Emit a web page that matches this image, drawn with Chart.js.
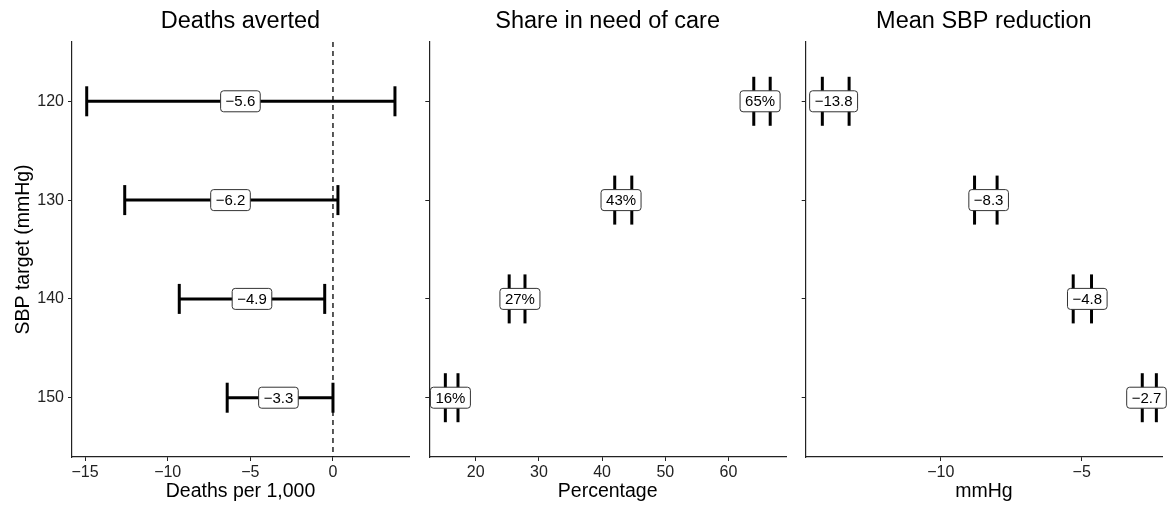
<!DOCTYPE html>
<html>
<head>
<meta charset="utf-8">
<script src="https://cdn.jsdelivr.net/npm/chart.js@4/dist/chart.umd.min.js"></script>
<style>
  body { margin: 0; background: #fff; }
  #wrap { position: relative; width: 1167px; height: 506px; }
  canvas { position: absolute; top: 0; }
</style>
</head>
<body>
<div id="wrap">
  <canvas id="c1" width="420" height="506" style="left:0px"></canvas>
  <canvas id="c2" width="380" height="506" style="left:415px"></canvas>
  <canvas id="c3" width="372" height="506" style="left:795px"></canvas>
</div>
<script>
// SBP targets (rows)
const targets = [120, 130, 140, 150];

// Deaths averted per 1,000
const deathsMean = [-5.6, -6.2, -4.9, -3.3];
const deathsLow = [-14.9, -12.6, -9.3, -6.4];
const deathsHigh = [3.75, 0.3, -0.5, 0.0];

// share in need of care (%)
const shareMean = [65, 43, 27, 16];
const shareLow = [64.0, 42.0, 25.3, 15.2];
const shareHigh = [66.6, 44.7, 27.8, 17.2];

// mean SBP reduction (mmHg)
const sbpMean = [-13.8, -8.3, -4.8, -2.7];
const sbpLow = [-14.2, -8.8, -5.3, -2.85];
const sbpHigh = [-13.25, -8.0, -4.65, -2.35];

const deathsTicks = [-15, -10, -5, 0];
const shareTicks = [20, 30, 40, 50, 60];
const sbpTicks = [-10, -5];

Chart.defaults.font.family = '"Liberation Sans", Arial, Helvetica, sans-serif';
Chart.defaults.color = '#000';

const minus = v => String(v).replace('-', '\u2212');

// labels in white rounded boxes at the point estimate
const boxLabels = {
    id: 'boxLabels',
    afterDatasetsDraw(chart, args, opts) {
        const ctx = chart.ctx;
        const xs = chart.scales.x, ys = chart.scales.y;
        ctx.save();
        ctx.font = '15px "Liberation Sans", Arial, sans-serif';
        ctx.textAlign = 'center';
        ctx.textBaseline = 'middle';
        opts.values.forEach((v, i) => {
            const txt = opts.format(v);
            const x = xs.getPixelForValue(v);
            const y = ys.getPixelForValue(targets[i]);
            const w = ctx.measureText(txt).width + 10;
            const h = 21;
            ctx.beginPath();
            ctx.roundRect(x - w / 2, y - h / 2, w, h, 3);
            ctx.fillStyle = '#fff';
            ctx.fill();
            ctx.lineWidth = 1;
            ctx.strokeStyle = '#333';
            ctx.stroke();
            ctx.fillStyle = '#000';
            ctx.fillText(txt, x, y + 1);
        });
        ctx.restore();
    }
};

// dashed reference line at zero
const zeroLine = {
    id: 'zeroLine',
    beforeDatasetsDraw(chart, args, opts) {
        if (!opts.show) return;
        const ctx = chart.ctx;
        const x = chart.scales.x.getPixelForValue(0);
        ctx.save();
        ctx.beginPath();
        ctx.setLineDash([5, 4]);
        ctx.lineWidth = 1.3;
        ctx.strokeStyle = '#000';
        ctx.moveTo(x, chart.chartArea.top);
        ctx.lineTo(x, chart.chartArea.bottom);
        ctx.stroke();
        ctx.restore();
    }
};

function makeDatasets(low, high, capRadius) {
    return targets.map((t, i) => ({
        data: [{x: low[i], y: t}, {x: high[i], y: t}],
        showLine: true,
        borderColor: '#000',
        borderWidth: 3,
        pointStyle: 'line',
        rotation: 90,
        pointRadius: capRadius,
        pointBorderWidth: 3,
        pointBorderColor: '#000',
        clip: false
    }));
}

function makeChart(id, cfg) {
    new Chart(document.getElementById(id), {
        type: 'scatter',
        data: {datasets: makeDatasets(cfg.low, cfg.high, cfg.cap)},
        plugins: [boxLabels, zeroLine],
        options: {
            responsive: false,
            animation: false,
            events: [],
            layout: {autoPadding: false, padding: {top: 0, right: cfg.padRight, bottom: 0, left: 0}},
            plugins: {
                legend: {display: false},
                tooltip: {enabled: false},
                title: {
                    display: true,
                    text: cfg.title,
                    fullSize: false,
                    font: {size: 23.5, weight: 'normal'},
                    color: '#000',
                    padding: {top: 7, bottom: 6.8}
                },
                boxLabels: {values: cfg.mean, format: cfg.fmt},
                zeroLine: {show: cfg.zero}
            },
            scales: {
                x: {
                    type: 'linear',
                    min: cfg.xmin,
                    max: cfg.xmax,
                    afterBuildTicks: s => { s.ticks = cfg.ticks.map(v => ({value: v})); },
                    afterFit: s => { s.height = 49; s.paddingLeft = 0; s.paddingRight = 0; },
                    grid: {display: true, drawOnChartArea: false, drawTicks: true, tickLength: 4, color: '#222'},
                    border: {display: true, color: '#222', width: 1.2},
                    ticks: {
                        padding: 1.5,
                        font: {size: 16},
                        color: '#222',
                        maxRotation: 0,
                        callback: v => minus(v)
                    },
                    title: {
                        display: true,
                        text: cfg.xTitle,
                        font: {size: 19.5},
                        color: '#000',
                        padding: {top: 0, bottom: 2.5}
                    }
                },
                y: {
                    type: 'linear',
                    min: 114,
                    max: 156,
                    reverse: true,
                    afterBuildTicks: s => { s.ticks = targets.map(v => ({value: v})); },
                    afterFit: s => { s.width = cfg.yWidth; s.paddingTop = 0; s.paddingBottom = 0; },
                    grid: {display: true, drawOnChartArea: false, drawTicks: true, tickLength: 4, color: '#222'},
                    border: {display: true, color: '#222', width: 1.2},
                    ticks: {
                        display: cfg.yLabels,
                        padding: 4,
                        font: {size: 16},
                        color: '#222'
                    },
                    title: {
                        display: cfg.yLabels,
                        text: 'SBP target (mmHg)',
                        font: {size: 19.5},
                        color: '#000',
                        padding: {top: 12, bottom: 0}
                    }
                }
            }
        }
    });
}

makeChart('c1', {
    title: 'Deaths averted', xTitle: 'Deaths per 1,000',
    low: deathsLow, high: deathsHigh, mean: deathsMean, cap: 15,
    fmt: v => minus(v.toFixed(1)),
    xmin: -15.79, xmax: 4.6, ticks: deathsTicks,
    yWidth: 72, padRight: 11, yLabels: true, zero: true
});

makeChart('c2', {
    title: 'Share in need of care', xTitle: 'Percentage',
    low: shareLow, high: shareHigh, mean: shareMean, cap: 24.5,
    fmt: v => v + '%',
    xmin: 12.66, xmax: 69.1, ticks: shareTicks,
    yWidth: 14.3, padRight: 9, yLabels: false, zero: false
});

makeChart('c3', {
    title: 'Mean SBP reduction', xTitle: 'mmHg',
    low: sbpLow, high: sbpHigh, mean: sbpMean, cap: 24.5,
    fmt: v => minus(v.toFixed(1)),
    xmin: -14.79, xmax: -2.15, ticks: sbpTicks,
    yWidth: 10.7, padRight: 5, yLabels: false, zero: false
});
</script>
</body>
</html>
